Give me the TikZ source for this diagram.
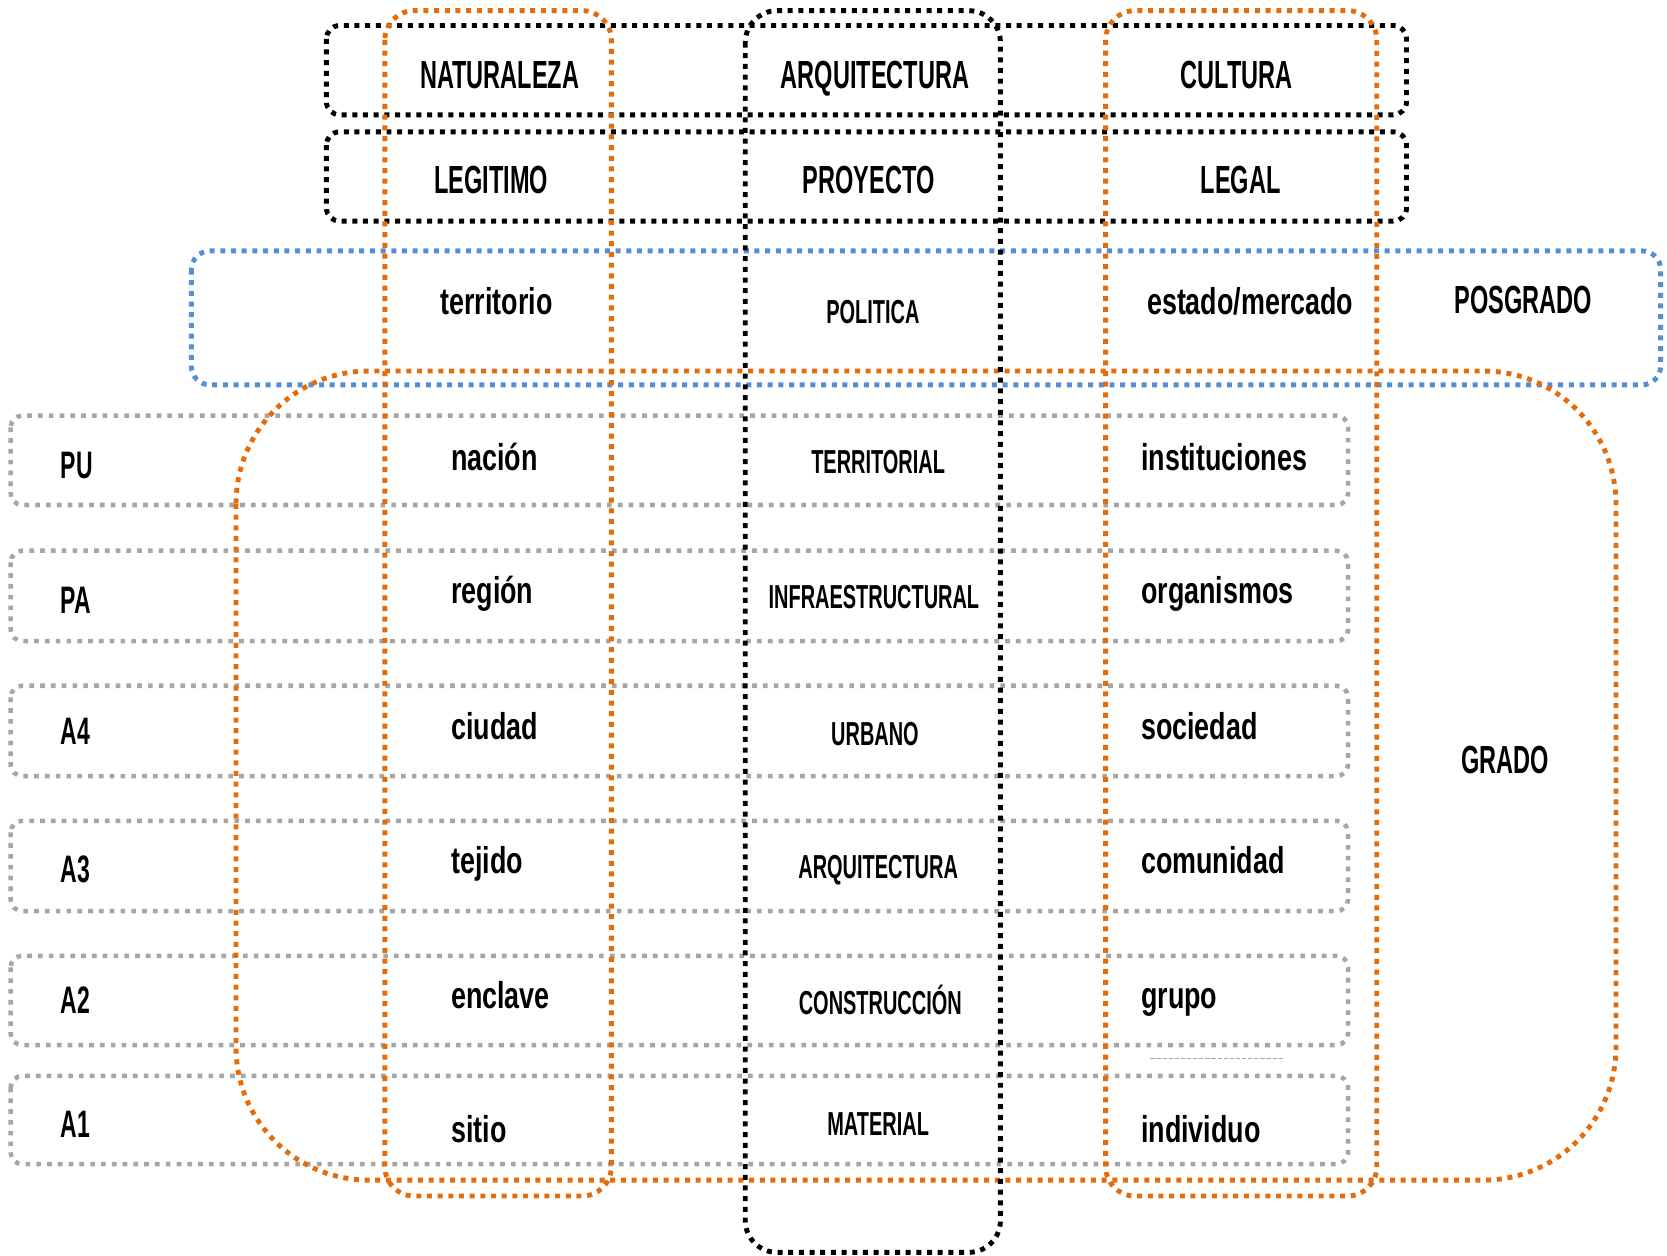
\documentclass[tikz,border=0pt]{standalone}
\usepackage{fontspec}
\newfontfamily\upf[FakeStretch=0.6]{Liberation Sans}
\newfontfamily\lowf[FakeStretch=0.72]{Liberation Sans}
\definecolor{orng}{HTML}{E46C0A}
\definecolor{blu}{HTML}{558ED5}
\definecolor{gry}{HTML}{A6A6A6}
\begin{document}
\begin{tikzpicture}[x=0.02cm,y=-0.02cm,
  dotline/.style={line width=0.092cm, dash pattern=on 0.094cm off 0.107cm},
  blkrow/.style={dotline, draw=black, rounded corners=0.25cm},
  blkcol/.style={dotline, draw=black, rounded corners=0.6cm},
  orcol/.style={dotline, draw=orng, rounded corners=0.55cm},
  orbig/.style={dotline, draw=orng, rounded corners=2.5cm},
  blubox/.style={dotline, draw=blu, rounded corners=0.35cm},
  grybox/.style={line width=0.085cm, dash pattern=on 0.088cm off 0.115cm, draw=gry, rounded corners=0.22cm},
  hdr/.style={inner sep=0pt, font=\upf\bfseries\fontsize{21}{24}\selectfont},
  lbl/.style={inner sep=0pt, font=\upf\bfseries\fontsize{20.5}{24}\selectfont},
  mid/.style={inner sep=0pt, font=\upf\bfseries\fontsize{17.8}{20}\selectfont},
  low/.style={inner sep=0pt, font=\lowf\bfseries\fontsize{20}{24}\selectfont}
]
\useasboundingbox (0,0) rectangle (1568,1181);

% gray row boxes
\draw[grybox] (10,391) rectangle (1268,475);
\draw[grybox] (10,518) rectangle (1268,603);
\draw[grybox] (10,645) rectangle (1268,730);
\draw[grybox] (10,772) rectangle (1268,857);
\draw[grybox] (10,899) rectangle (1268,983);
\draw[grybox] (10,1012) rectangle (1268,1095);
\draw[gry, line width=0.022cm, dash pattern=on 0.08cm off 0.035cm] (1082,996) -- (1208,996);

% blue box
\draw[blubox] (180,236) rectangle (1562,362);

% big orange box
\draw[orbig] (222,349) rectangle (1520,1110);

% black row boxes
\draw[blkrow] (307,24) rectangle (1323,108);
\draw[blkrow] (307,124) rectangle (1323,208);

% vertical boxes
\draw[orcol] (362,10) rectangle (575,1125);
\draw[orcol] (1040,10) rectangle (1295,1125);
\draw[blkcol] (701,10) rectangle (941,1178);

% headers
\node[hdr, anchor=base] (nat) at (470,83) {NATURALEZA};
\node[hdr, anchor=base] (arq) at (823,83) {ARQUITECTURA};
\node[hdr, anchor=base] (cul) at (1163,83) {CULTURA};
\node[hdr, anchor=base] (leg) at (462,182) {LEGITIMO};
\node[hdr, anchor=base] (pro) at (817,182) {PROYECTO};
\node[hdr, anchor=base] (lgl) at (1167,182) {LEGAL};

\node[low, anchor=base] (ter) at (467,296) {territorio};
\node[mid, anchor=base] (pol) at (821,304) {POLITICA};
\node[low, anchor=base] (est) at (1176,296) {estado/mercado};
\node[hdr, anchor=base] (pos) at (1433,295) {POSGRADO};
\node[hdr, anchor=base] (gra) at (1416,728) {GRADO};

% row labels
\node[lbl, anchor=base west] (pu) at (57,450) {PU};
\node[lbl, anchor=base west] (pa) at (57,577) {PA};
\node[lbl, anchor=base west] (a4) at (57,700) {A4};
\node[lbl, anchor=base west] (a3) at (57,830) {A3};
\node[lbl, anchor=base west] (a2) at (57,953) {A2};
\node[lbl, anchor=base west] (a1) at (57,1070) {A1};

% left column
\node[low, anchor=base west] (nac) at (424,443) {nación};
\node[low, anchor=base west] (reg) at (424,568) {región};
\node[low, anchor=base west] (ciu) at (424,696) {ciudad};
\node[low, anchor=base west] (tej) at (424,822) {tejido};
\node[low, anchor=base west] (enc) at (424,949) {enclave};
\node[low, anchor=base west] (sit) at (424,1075) {sitio};

% middle column
\node[mid, anchor=base] (trr) at (826,445) {TERRITORIAL};
\node[mid, anchor=base] (inf) at (822,572) {INFRAESTRUCTURAL};
\node[mid, anchor=base] (urb) at (823,701) {URBANO};
\node[mid, anchor=base] (arq2) at (826,826) {ARQUITECTURA};
\node[mid, anchor=base] (con) at (828,954) {CONSTRUCCIÓN};
\node[mid, anchor=base] (mat) at (826,1068) {MATERIAL};

% right column
\node[low, anchor=base west] (ins) at (1073,443) {instituciones};
\node[low, anchor=base west] (org) at (1073,568) {organismos};
\node[low, anchor=base west] (soc) at (1073,696) {sociedad};
\node[low, anchor=base west] (com) at (1073,822) {comunidad};
\node[low, anchor=base west] (gru) at (1073,949) {grupo};
\node[low, anchor=base west] (ind) at (1073,1075) {individuo};
\end{tikzpicture}
\end{document}
